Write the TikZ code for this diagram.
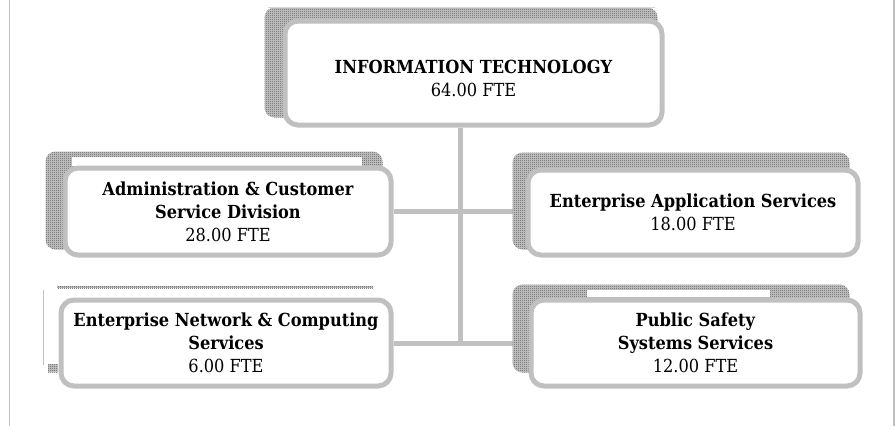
\documentclass[tikz,border=0pt]{standalone}
\usepackage{fontspec}
\setmainfont{DejaVu Serif Condensed}
\usepackage{tikz}
\usetikzlibrary{positioning, calc, patterns}
\definecolor{boxgray}{RGB}{192,192,192}
\definecolor{shadegray}{RGB}{90,90,90}
\definecolor{shadebase}{RGB}{200,200,200}
\definecolor{edgegray}{RGB}{215,215,215}
\pgfdeclarelayer{lines}
\pgfdeclarelayer{shade}
\pgfsetlayers{lines,shade,main}
\pgfdeclarepatternformonly{checker}{\pgfpointorigin}{\pgfqpoint{2pt}{2pt}}{\pgfqpoint{2pt}{2pt}}{%
  \pgfpathrectangle{\pgfpointorigin}{\pgfqpoint{1pt}{1pt}}%
  \pgfpathrectangle{\pgfqpoint{1pt}{1pt}}{\pgfqpoint{1pt}{1pt}}%
  \pgfusepath{fill}}

\begin{document}
\begin{tikzpicture}[x=1pt, y=-1pt,
    unit/.style={draw=boxgray, line width=5pt, rounded corners=13pt, fill=white,
      align=center, inner sep=0pt, font=\fontsize{18}{23}\selectfont},
    link/.style={draw=boxgray, line width=5pt},
    shadow/.style={preaction={fill=shadebase}, pattern=checker, pattern color=shadegray,
      rounded corners=10pt}]
  \useasboundingbox (0,0) rectangle (896,426);

  % Page edges
  \draw[boxgray, line width=1.2pt] (9.5,0) -- (9.5,426);
  \draw[boxgray, line width=1.2pt] (894,0) -- (894,426);
  \draw[edgegray, line width=1pt] (268,7) -- (655,7);

  % Units
  \node[unit, minimum width=377pt, minimum height=104pt] (it) at (473.5,73)
    {\rule{0pt}{25pt}\textbf{INFORMATION TECHNOLOGY}\\64.00 FTE};
  \node[unit, minimum width=326pt, minimum height=87pt] (admin) at (228,211.5)
    {\textbf{Administration \& Customer}\\\textbf{Service Division}\\28.00 FTE};
  \node[unit, minimum width=330pt, minimum height=85pt] (eas) at (693,212.5)
    {\textbf{Enterprise Application Services}\\18.00 FTE};
  \node[unit, minimum width=330pt, minimum height=86pt] (encs) at (226,343)
    {\textbf{Enterprise Network \& Computing}\\\textbf{Services}\\6.00 FTE};
  \node[unit, minimum width=329pt, minimum height=86pt] (psss) at (695.5,343)
    {\textbf{Public Safety}\\\textbf{Systems Services}\\12.00 FTE};

  % Shadows
  \begin{pgfonlayer}{shade}
    \fill[shadow] ($(it.north west)+(-18,-11)$) rectangle ($(it.south east)+(-7,-10)$);
    \fill[shadow] ($(admin.north west)+(-17,-14)$) rectangle ($(admin.south east)+(-11,-8)$);
    \fill[white] (72,157) rectangle (362,166);
    \fill[shadow] ($(eas.north west)+(-13,-15)$) rectangle ($(eas.south east)+(-11,-8)$);
    \fill[shadow, rounded corners=0pt] (57,286) rectangle (373,288);
    \fill[shadow, rounded corners=0pt] (48,364) rectangle (58,372);
    \draw[boxgray, line width=1pt] (43,290) -- (43,365);
    \fill[shadow] ($(psss.north west)+(-16,-13)$) rectangle ($(psss.south east)+(-13,-16)$);
    \fill[white] (587,290) rectangle (770,297);
  \end{pgfonlayer}

  % Connectors
  \coordinate (trunk) at (460,343);
  \begin{pgfonlayer}{lines}
    \draw[link] (it.south -| trunk) -- (trunk);
    \draw[link] (admin.east) -- (admin.east -| eas.west);
    \draw[link] (encs.east) -- (psss.west);
  \end{pgfonlayer}
\end{tikzpicture}
\end{document}
